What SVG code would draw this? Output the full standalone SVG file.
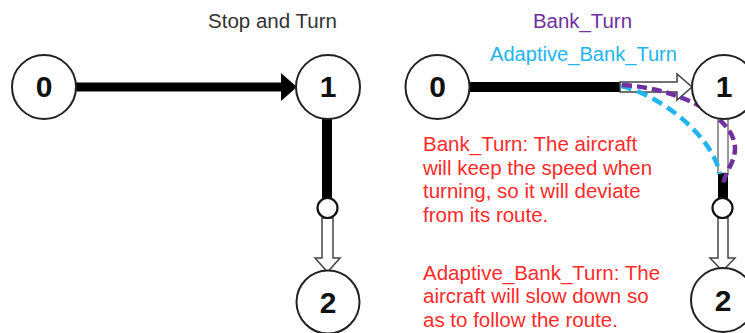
<svg xmlns="http://www.w3.org/2000/svg" width="745" height="333" viewBox="0 0 745 333">
<style>
.node{fill:#fff;stroke:#222;stroke-width:2}
.num{font-family:"Liberation Sans",Arial,sans-serif;font-weight:bold;font-size:30px;fill:#111;text-anchor:middle}
.title{font-family:"Liberation Sans",Arial,sans-serif;font-size:19.5px}
.note{font-family:"Liberation Sans",Arial,sans-serif;font-size:20.5px;fill:#ff2b2b}
.hollow{fill:#fff;stroke:#444;stroke-width:1.5;stroke-linejoin:miter}
.joint{fill:#fff;stroke:#111;stroke-width:2.2}
.bar{fill:#000}
</style>
<rect width="745" height="333" fill="#fff"/>
<g id="labels">
<text class="title" x="208" y="28" fill="#333" textLength="129" lengthAdjust="spacingAndGlyphs">Stop and Turn</text>
<text class="title" x="533" y="28" fill="#7030a0" textLength="99" lengthAdjust="spacingAndGlyphs">Bank_Turn</text>
<text class="title" x="490" y="61" fill="#22b4ee" textLength="187" lengthAdjust="spacingAndGlyphs">Adaptive_Bank_Turn</text>
<text class="note" x="423" y="151">Bank_Turn: The aircraft</text>
<text class="note" x="423" y="175">will keep the speed when</text>
<text class="note" x="423" y="198">turning, so it will deviate</text>
<text class="note" x="423" y="222">from its route.</text>
<text class="note" x="423" y="280">Adaptive_Bank_Turn: The</text>
<text class="note" x="423" y="303">aircraft will slow down so</text>
<text class="note" x="423" y="327">as to follow the route.</text>
</g>
<g id="connectors">
<!-- left: stop and turn -->
<rect class="bar" x="76" y="82.5" width="207" height="9"/>
<polygon points="281,73 297,87 281,101" fill="#000"/>
<rect class="bar" x="322" y="118" width="10" height="82"/>
<polygon class="hollow" points="322,218 333,218 333,258 340,258 327.5,272 315,258 322,258"/>
<!-- right: bank turn -->
<rect class="bar" x="469" y="82" width="152" height="10"/>
<polygon class="hollow" points="620,82 677,82 677,74 692,87 677,100 677,92 620,92"/>
<rect x="718" y="118" width="10" height="56" fill="#fff" stroke="#555" stroke-width="1.2"/>
<rect class="bar" x="718" y="173" width="10" height="27"/>
<polygon class="hollow" points="718,218 728,218 728,258 735,258 722.5,271 710,258 718,258"/>
<path d="M621,86 C660,95 712,135 720,174" fill="none" stroke="#22b4ee" stroke-width="4.5" stroke-dasharray="11,6"/>
<path d="M622,85 C680,88 735,118 735,148 C735,164 724,172 723,186" fill="none" stroke="#7030a0" stroke-width="4.5" stroke-dasharray="10,5"/>
</g>
<g id="node-L0"><circle class="node" cx="44" cy="87" r="32"/><text class="num" x="44" y="97">0</text></g>
<g id="node-L1"><circle class="node" cx="328" cy="87" r="32"/><text class="num" x="328" y="97">1</text></g>
<g id="node-Ljoint"><circle class="joint" cx="327.5" cy="208" r="10"/></g>
<g id="node-L2"><circle class="node" cx="328" cy="302" r="31.5"/><text class="num" x="328" y="313">2</text></g>
<g id="node-R0"><circle class="node" cx="437.5" cy="87" r="32"/><text class="num" x="437.5" y="97">0</text></g>
<g id="node-R1"><circle class="node" cx="724" cy="87" r="32"/><text class="num" x="724" y="97">1</text></g>
<g id="node-Rjoint"><circle class="joint" cx="722.5" cy="208" r="10"/></g>
<g id="node-R2"><circle class="node" cx="723" cy="300" r="32"/><text class="num" x="723" y="311">2</text></g>
</svg>
